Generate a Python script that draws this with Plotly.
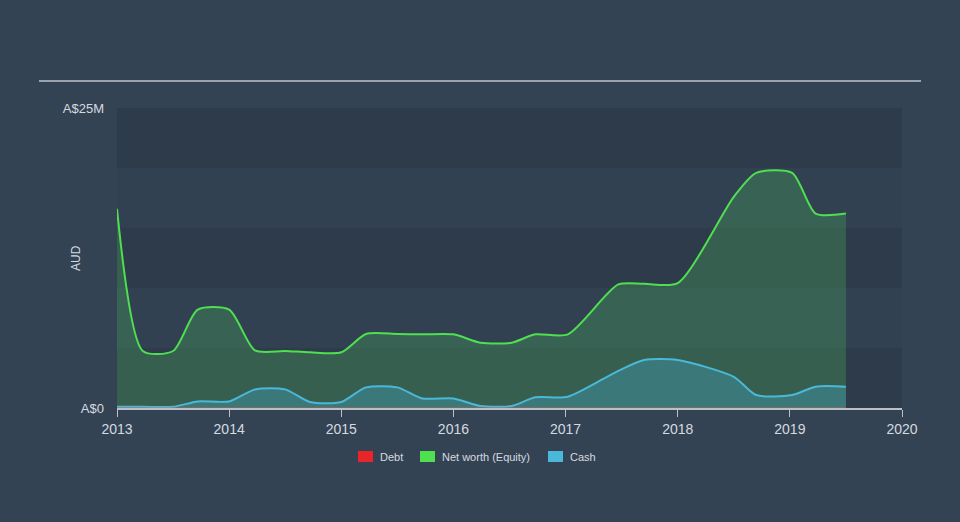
import plotly.graph_objects as go

# ---- data (A$ millions) ----
years = [2013.0, 2013.23, 2013.5, 2013.72, 2014.0, 2014.23, 2014.5, 2014.72,
         2015.0, 2015.22, 2015.5, 2015.72, 2016.0, 2016.24, 2016.52, 2016.73,
         2017.02, 2017.47, 2017.7, 2018.0, 2018.5, 2018.7, 2019.02, 2019.23, 2019.5]
net_worth = [16.6, 4.75, 4.75, 8.2, 8.2, 4.8, 4.75, 4.64,
             4.64, 6.17, 6.17, 6.14, 6.14, 5.44, 5.44, 6.14,
             6.14, 10.3, 10.35, 10.4, 17.6, 19.6, 19.6, 16.2, 16.2]
cash = [0.1, 0.1, 0.1, 0.55, 0.55, 1.55, 1.55, 0.5,
        0.5, 1.72, 1.72, 0.8, 0.8, 0.17, 0.17, 0.89,
        0.94, 3.1, 4.0, 4.0, 2.6, 1.08, 1.08, 1.78, 1.78]
debt = [0.0] * len(years)

x_ticks = [2013, 2014, 2015, 2016, 2017, 2018, 2019, 2020]
x_ticktext = [str(v) for v in x_ticks]
y_ticks = [0, 25]
y_ticktext = ["A$0", "A$25M"]
band_edges = [0, 5, 10, 15, 20, 25]
legend_names = ["Debt", "Net worth (Equity)", "Cash"]

BG = "#344353"
BAND_DARK = "#2e3b4b"
BAND_LIGHT = "#324152"
GREEN = "#4fe04f"
BLUE = "#4ab8d8"
RED = "#e8262a"
TXT = "#d5dae0"
legend_colors = [RED, GREEN, BLUE]

# plot area in pixels (for paper-coordinate conversions of decorations)
L, R, T, B = 117, 902, 108, 408
PW, PH = R - L, B - T
def px(x):
    return (x - L) / PW
def py(y):
    return (B - y) / PH

fig = go.Figure()

fig.add_trace(go.Scatter(
    x=years, y=net_worth, mode="lines",
    line=dict(color=GREEN, width=2, shape="spline", smoothing=0.7),
    fill="tozeroy", fillcolor="rgba(72,170,90,0.32)",
    showlegend=False, hoverinfo="skip"))
fig.add_trace(go.Scatter(
    x=years, y=cash, mode="lines",
    line=dict(color=BLUE, width=2, shape="spline", smoothing=0.7),
    fill="tozeroy", fillcolor="rgba(70,170,200,0.35)",
    showlegend=False, hoverinfo="skip"))
fig.add_trace(go.Scatter(
    x=years, y=debt, mode="lines",
    line=dict(color="rgba(232,90,60,0.7)", width=1),
    showlegend=False, hoverinfo="skip"))

shapes = []
for i in range(len(band_edges) - 1):
    shapes.append(dict(
        type="rect", xref="x", yref="y", x0=2013, x1=2020,
        y0=band_edges[i], y1=band_edges[i + 1],
        fillcolor=BAND_DARK if i % 2 == 0 else BAND_LIGHT,
        line=dict(width=0), layer="below"))
shapes.append(dict(
    type="line", xref="paper", yref="paper",
    x0=px(39), x1=px(921), y0=py(81), y1=py(81),
    line=dict(color="#9aa3ad", width=2)))

annotations = [dict(text="AUD", textangle=-90, xref="paper", yref="paper",
                    x=px(67), y=0.5, showarrow=False,
                    font=dict(size=12, color=TXT))]

# manual legend: swatch left edges (pixels)
swatch_x = [358, 420, 548]
for name, col, sx in zip(legend_names, legend_colors, swatch_x):
    shapes.append(dict(type="rect", xref="paper", yref="paper",
                       x0=px(sx), x1=px(sx + 15), y0=py(451), y1=py(462),
                       fillcolor=col, line=dict(width=0)))
    annotations.append(dict(text=name, xref="paper", yref="paper",
                            x=px(sx + 20), y=py(456.5), xanchor="left",
                            yanchor="middle", showarrow=False,
                            font=dict(size=11, color=TXT)))

fig.update_layout(
    width=960, height=522,
    margin=dict(l=L, r=960 - R, t=T, b=522 - B),
    paper_bgcolor=BG, plot_bgcolor=BAND_DARK,
    font=dict(family="Liberation Sans, Arial, sans-serif", color=TXT, size=12),
    shapes=shapes, annotations=annotations,
    showlegend=False,
    xaxis=dict(range=[2013, 2020], tickvals=x_ticks, ticktext=x_ticktext,
               showgrid=False, zeroline=False, showline=True,
               linecolor="#b9c0c8", linewidth=1.5, ticks="outside",
               tickcolor="#b9c0c8", ticklen=7, tickwidth=1,
               tickfont=dict(size=14, color=TXT)),
    yaxis=dict(range=[0, 25], tickvals=y_ticks, ticktext=y_ticktext,
               showgrid=False, zeroline=False, showline=False, ticks="",
               ticklabelstandoff=12, tickfont=dict(size=13, color=TXT)),
)

fig.write_html("out.html")
